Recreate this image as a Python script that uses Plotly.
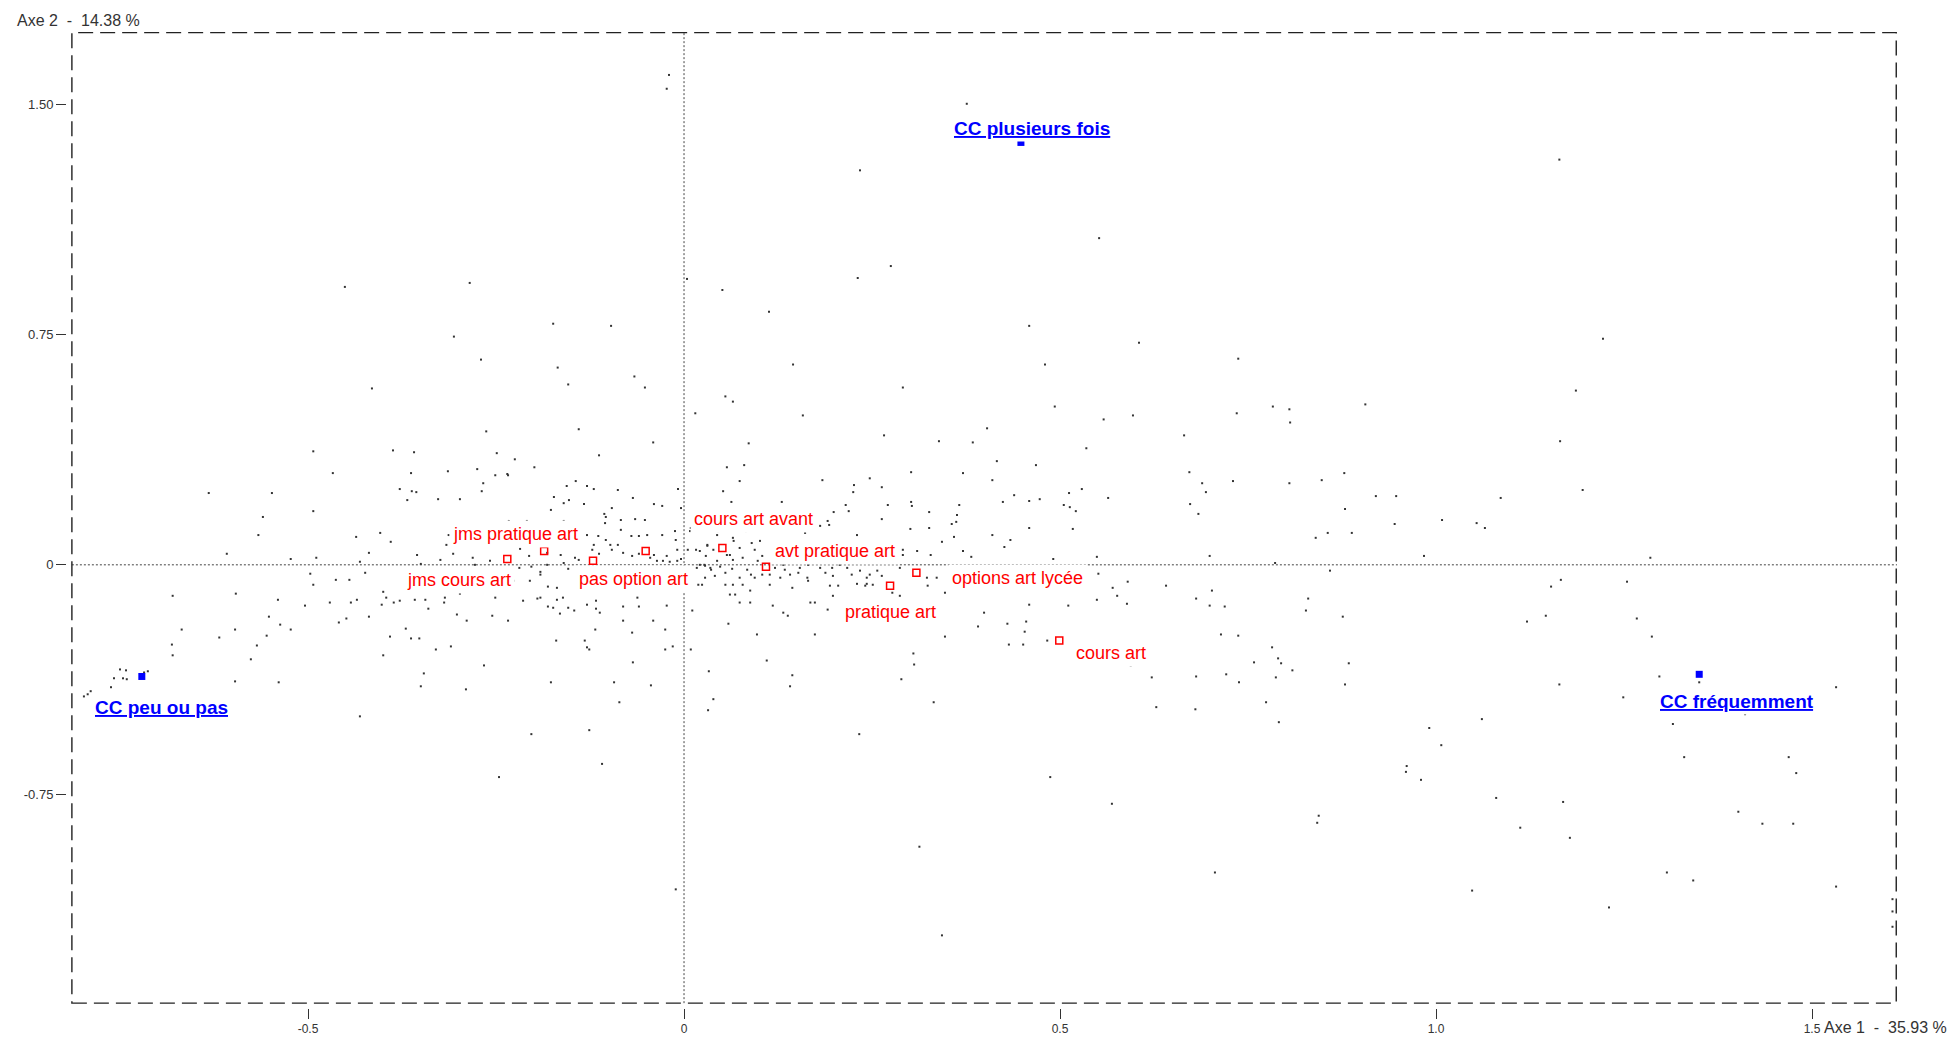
import plotly.graph_objects as go

# ---------------- data ----------------
# individuals (small grey dots): factorial coordinates on Axe 1 / Axe 2
ind_x = [
 -0.020,-0.023,0.376,0.234,1.164,0.552,0.275,0.231,0.004,0.051,0.113,-0.174,-0.097,0.459,0.605,1.222,0.737,0.145,0.480,-0.168,
 -0.066,-0.154,-0.052,0.291,1.186,0.055,0.065,0.015,0.158,0.493,0.558,0.597,0.735,0.783,0.805,0.806,0.906,-0.140,0.403,-0.041,
 0.086,0.266,0.339,0.384,0.535,0.665,1.165,-0.113,-0.225,-0.199,0.057,0.080,0.416,0.468,0.302,0.371,0.672,0.878,0.247,-0.235,
 0.673,0.684,0.694,0.689,0.730,0.805,0.848,0.920,0.947,0.879,0.856,0.888,0.840,0.945,1.008,1.054,1.065,1.086,1.195,0.699,
 0.786,0.984,1.285,0.859,0.641,0.702,0.681,0.699,0.719,0.830,0.827,0.876,1.166,1.153,1.254,1.121,1.146,1.267,1.287,0.714,
 0.737,0.782,0.790,0.794,0.758,0.809,0.884,0.622,0.681,0.721,0.738,0.787,0.879,1.164,1.297,1.350,1.532,1.249,0.628,0.680,
 0.774,0.791,1.061,1.411,1.315,0.991,1.007,1.330,1.469,1.479,0.961,0.960,0.980,1.080,1.169,1.402,1.434,1.475,0.844,0.842,
 1.112,1.178,0.706,1.307,1.342,1.532,1.048,1.230,
 -0.451,-0.415,-0.493,-0.467,-0.632,-0.548,-0.493,-0.560,-0.566,-0.436,-0.608,-0.523,-0.489,-0.419,-0.431,-0.497,-0.424,-0.493,-0.463,-0.445,
 -0.680,-0.596,-0.540,-0.504,-0.471,-0.443,-0.435,-0.419,-0.552,-0.459,-0.449,-0.537,-0.523,-0.668,-0.597,-0.618,-0.555,-0.681,-0.568,-0.680,
 -0.576,-0.750,-0.742,-0.758,-0.746,-0.741,-0.718,-0.713,-0.762,-0.789,-0.793,-0.798,-0.597,-0.539,-0.431,
 -0.387,-0.359,-0.263,-0.249,-0.363,-0.314,-0.275,-0.251,-0.234,-0.378,-0.362,-0.356,-0.267,-0.269,-0.368,-0.327,-0.298,-0.156,-0.144,-0.129,
 -0.120,-0.088,-0.008,-0.173,-0.160,-0.153,-0.133,-0.068,-0.040,-0.029,-0.004,-0.177,-0.104,-0.096,-0.106,-0.084,-0.065,-0.052,-0.233,-0.209,
 -0.160,-0.105,-0.404,-0.390,-0.313,-0.316,-0.129,-0.114,-0.104,-0.084,-0.070,-0.060,-0.049,-0.029,-0.012,0.008,-0.011,-0.120,-0.098,-0.088,
 -0.122,-0.113,-0.096,-0.081,-0.069,-0.060,-0.045,-0.036,-0.028,-0.019,-0.009,-0.004,-0.023,-0.009,-0.040,-0.140,-0.145,-0.154,-0.182,-0.164,
 -0.160,-0.218,-0.206,-0.219,-0.203,-0.191,-0.182,-0.281,-0.278,-0.258,-0.307,-0.324,-0.350,-0.355,-0.227,-0.205,-0.191,-0.243,-0.259,-0.275,
 -0.298,-0.332,-0.400,-0.396,-0.386,-0.378,-0.358,-0.344,-0.318,-0.319,-0.340,-0.402,-0.251,-0.214,-0.195,-0.181,-0.169,-0.191,-0.181,-0.169,
 -0.161,-0.174,-0.154,-0.165,-0.146,-0.129,-0.129,-0.117,-0.117,-0.101,-0.062,-0.056,-0.041,-0.062,-0.081,-0.060,-0.023,-0.009,-0.112,-0.081,
 -0.041,-0.118,-0.069,-0.025,-0.132,-0.129,-0.126,-0.025,-0.015,-0.170,-0.302,-0.289,-0.255,-0.234,-0.370,-0.391,-0.363,-0.352,-0.330,-0.310,
 -0.400,-0.266,-0.346,-0.350,-0.290,-0.177,-0.093,-0.044,-0.068,0.009,0.011,0.019,0.017,0.021,0.028,0.036,0.005,0.016,0.021,0.031,
 0.044,0.009,
 0.074,0.184,0.226,0.263,0.225,0.410,0.052,0.063,0.130,0.215,0.219,0.302,0.303,0.271,0.366,0.439,0.424,0.459,0.473,0.512,
 0.529,0.505,0.513,0.521,0.564,0.326,0.363,0.362,0.356,0.199,0.263,0.191,0.193,0.181,0.129,0.153,0.161,0.301,0.326,0.459,
 0.517,0.410,0.434,0.426,0.359,0.230,0.343,0.291,0.291,0.310,0.328,0.371,0.382,0.491,0.549,
 0.045,0.065,0.066,0.074,0.061,0.082,0.090,0.101,0.094,0.104,0.078,0.098,0.065,0.057,0.039,0.031,0.029,0.044,0.035,0.027,
 0.048,0.055,0.041,0.028,0.024,0.064,0.084,0.074,0.065,0.055,0.078,0.089,0.094,0.104,0.114,0.121,0.132,0.128,0.114,0.134,
 0.141,0.154,0.152,0.165,0.164,0.177,0.181,0.188,0.197,0.198,0.207,0.217,0.223,0.234,0.243,0.247,0.257,0.263,0.287,0.194,
 0.205,0.230,0.243,0.144,0.165,0.061,0.068,0.088,0.074,0.088,0.118,0.132,0.138,0.168,0.174,0.191,0.198,0.241,0.251,0.277,
 0.287,0.324,0.347,0.336,0.323,
 0.059,0.097,0.110,0.144,0.174,0.327,0.347,0.305,0.306,0.033,0.399,0.391,0.430,0.455,0.453,0.432,0.451,0.483,0.459,0.511,
 0.549,0.525,0.576,0.589,0.570,0.551,0.590,0.594,0.617,
 -0.086,-0.203,-0.126,-0.109,-0.246,-0.011,0.141,0.289,0.039,0.032,0.332,0.233,0.487,0.569,0.313,0.343,
 -0.285,-0.306,-0.270,1.607,1.607,1.607,
]
ind_y = [
 1.597,1.552,1.503,1.286,1.321,1.065,0.974,0.935,0.932,0.896,0.825,0.786,0.779,0.779,0.724,0.737,0.672,0.653,0.653,0.643,
 0.614,0.588,0.578,0.578,0.568,0.549,0.532,0.494,0.487,0.516,0.474,0.487,0.494,0.516,0.507,0.464,0.523,0.442,0.445,0.399,
 0.396,0.422,0.403,0.399,0.380,0.422,0.403,0.357,0.344,0.318,0.318,0.325,0.338,0.325,0.302,0.299,0.302,0.299,0.282,0.296,
 0.198,0.166,0.237,0.266,0.273,0.266,0.276,0.224,0.224,0.182,0.104,0.104,0.088,0.133,0.146,0.136,0.120,0.218,0.244,0.029,
 0.006,0.029,0.023,-0.019,-0.068,-0.084,-0.110,-0.133,-0.136,-0.110,-0.149,-0.169,-0.049,-0.071,-0.055,-0.185,-0.166,-0.175,-0.234,-0.227,
 -0.231,-0.269,-0.305,-0.321,-0.318,-0.344,-0.321,-0.367,-0.364,-0.357,-0.383,-0.367,-0.390,-0.390,-0.364,-0.383,-0.399,-0.432,-0.464,-0.471,
 -0.448,-0.513,-0.503,-0.487,-0.519,-0.532,-0.588,-0.627,-0.627,-0.679,-0.656,-0.675,-0.701,-0.760,-0.773,-0.805,-0.844,-0.844,-0.818,-0.841,
 -0.857,-0.890,-1.003,-1.003,-1.029,-1.049,-1.062,-1.117,
 0.906,0.575,0.370,0.299,0.234,0.234,0.175,0.156,0.097,0.091,0.036,0.019,0.023,0.039,0.010,-0.029,-0.026,-0.065,-0.049,-0.049,
 -0.101,-0.094,-0.114,-0.133,-0.123,-0.123,-0.114,-0.169,-0.169,-0.188,-0.175,-0.195,-0.211,-0.211,-0.211,-0.237,-0.231,-0.260,-0.263,-0.295,
 -0.308,-0.341,-0.344,-0.370,-0.370,-0.373,-0.351,-0.347,-0.399,-0.412,-0.422,-0.429,-0.380,-0.383,-0.494,
 0.373,0.367,0.435,0.364,0.299,0.305,0.312,0.292,0.292,0.247,0.240,0.237,0.266,0.240,0.211,0.214,0.214,0.257,0.273,0.257,
 0.247,0.244,0.247,0.221,0.201,0.211,0.198,0.218,0.198,0.192,0.185,0.179,0.156,0.185,0.166,0.146,0.149,0.146,0.143,0.143,
 0.143,0.136,0.104,0.075,0.097,0.065,0.097,0.094,0.081,0.114,0.094,0.094,0.097,0.097,0.110,0.110,0.081,0.065,0.065,0.065,
 0.049,0.036,0.049,0.039,0.029,0.036,0.023,0.013,0.013,0.010,0.013,0.019,0.029,0.049,0.032,0.016,0.023,-0.013,0.039,0.032,
 0.006,0.052,0.029,-0.010,-0.006,-0.023,0.000,0.023,0.000,0.013,0.036,0.016,0.003,0.032,-0.052,-0.052,-0.032,-0.081,-0.084,-0.084,
 -0.094,-0.088,-0.088,-0.107,-0.123,-0.117,-0.114,-0.114,-0.107,-0.123,-0.143,-0.130,-0.107,-0.117,-0.110,-0.071,-0.075,-0.107,-0.136,-0.114,
 -0.107,-0.140,-0.140,-0.159,-0.149,-0.078,-0.130,-0.117,-0.143,-0.084,-0.078,-0.084,-0.084,-0.107,-0.136,-0.136,-0.133,-0.084,-0.156,-0.182,
 -0.182,-0.211,-0.221,-0.211,-0.247,-0.269,-0.276,-0.276,-0.266,-0.247,-0.162,-0.182,-0.166,-0.182,-0.208,-0.234,-0.240,-0.240,-0.276,-0.266,
 -0.295,-0.328,-0.354,-0.396,-0.406,-0.383,-0.383,-0.393,-0.318,-0.276,-0.149,-0.065,-0.010,0.000,-0.003,-0.016,0.049,0.049,0.045,0.065,
 0.097,0.120,
 0.273,0.276,0.260,0.253,0.237,0.276,0.240,0.205,0.205,0.195,0.175,0.205,0.192,0.195,0.195,0.227,0.205,0.208,0.214,0.234,
 0.247,0.195,0.188,0.175,0.218,0.172,0.162,0.140,0.133,0.172,0.149,0.143,0.130,0.127,0.117,0.114,0.104,0.117,0.120,0.120,
 0.117,0.097,0.081,0.058,0.091,0.097,0.075,0.049,0.032,0.045,0.032,0.045,0.026,0.019,0.026,
 0.110,0.088,0.078,0.055,0.032,0.110,0.071,0.078,0.049,0.029,0.023,0.013,0.016,0.032,0.049,0.062,0.029,0.013,-0.010,0.000,
 -0.006,-0.026,-0.036,-0.042,-0.065,-0.013,-0.016,-0.042,-0.065,-0.065,-0.065,-0.032,-0.042,-0.032,-0.032,-0.010,0.000,-0.042,-0.065,-0.016,
 -0.032,-0.010,-0.026,0.000,-0.042,0.013,-0.010,-0.026,-0.010,-0.036,0.000,-0.010,-0.032,-0.019,-0.042,-0.032,-0.019,-0.036,-0.010,-0.068,
 -0.068,-0.062,-0.062,-0.075,-0.052,-0.097,-0.097,-0.084,-0.123,-0.123,-0.133,-0.156,-0.166,-0.123,-0.123,-0.146,-0.101,-0.068,-0.065,-0.091,
 -0.101,-0.068,-0.091,-0.042,-0.042,
 -0.192,-0.227,-0.312,-0.360,-0.227,-0.192,-0.234,-0.289,-0.325,-0.347,-0.156,-0.201,-0.192,-0.185,-0.218,-0.260,-0.260,-0.247,-0.130,-0.133,
 -0.114,-0.081,-0.101,-0.127,-0.075,-0.029,-0.055,-0.328,-0.312,
 -0.448,-0.552,-0.539,-0.649,-0.692,-1.058,-0.396,-0.373,-0.438,-0.474,-0.448,-0.552,-0.692,-0.779,-0.919,-1.208,
 0.919,0.744,0.669,-1.09,-1.13,-1.18,
]

# supplementary categories (red open squares)
sup_x = [-0.235, -0.186, -0.121, -0.051, 0.051, 0.109, 0.274, 0.309, 0.499]
sup_y = [0.019, 0.045, 0.013, 0.045, 0.055, -0.006, -0.068, -0.026, -0.247]

# red labels and their anchor (left edge, vertical middle)
sup_labels = ["jms cours art", "jms pratique art", "pas option art", "cours art avant",
              "avt pratique art", "options art lycée", "pratique art", "cours art"]
sup_label_x = [-0.3697, -0.3089, -0.1406, 0.0124, 0.1197, 0.3546, 0.2132, 0.5200]
sup_label_y = [-0.050, 0.101, -0.046, 0.148, 0.044, -0.043, -0.154, -0.287]

# active categories (blue filled squares)
act_names = ["CC plusieurs fois", "CC peu ou pas", "CC fréquemment"]
act_x = [0.448, -0.721, 1.350]
act_y = [1.377, -0.364, -0.357]
act_label_x = [0.4628, -0.785, 1.297]
act_label_y = [1.424, -0.465, -0.447]
act_label_anchor = ["center", "left", "left"]

x_ticks = [-0.5, 0, 0.5, 1.0, 1.5]
x_ticktext = ["-0.5", "0", "0.5", "1.0", "1.5"]
y_ticks = [-0.75, 0, 0.75, 1.5]
y_ticktext = ["-0.75", "0", "0.75", "1.50"]

axis1_title = "Axe 1 \u00a0-\u00a0 35.93 %"
axis2_title = "Axe 2 \u00a0-\u00a0 14.38 %"

frame_x = [-0.814, 1.613]
frame_y = [-1.429, 1.737]

# ---------------- figure ----------------
FONT = "Liberation Sans, Arial, sans-serif"
fig = go.Figure()

fig.add_trace(go.Scatter(
    x=ind_x, y=ind_y, mode="markers", hoverinfo="skip",
    marker=dict(symbol="square", size=2, color="#333333", line=dict(width=0)),
    showlegend=False))

fig.add_trace(go.Scatter(
    x=sup_x, y=sup_y, mode="markers", hoverinfo="skip",
    marker=dict(symbol="square-open", size=7, color="#FF0000", line=dict(width=1.5, color="#FF0000")),
    showlegend=False))

fig.add_trace(go.Scatter(
    x=act_x, y=act_y, mode="markers", hoverinfo="skip",
    marker=dict(symbol="square", size=7, color="#0000FF", line=dict(width=0)),
    showlegend=False))

shapes = [
    # dotted zero axes
    dict(type="line", xref="x", yref="y", x0=0, x1=0, y0=frame_y[0], y1=frame_y[1],
         line=dict(color="#444444", width=1, dash="2px,2px"), layer="below"),
    dict(type="line", xref="x", yref="y", x0=frame_x[0], x1=frame_x[1], y0=0, y1=0,
         line=dict(color="#444444", width=1, dash="2px,2px"), layer="below"),
    # long dashed frame
    dict(type="rect", xref="x", yref="y", x0=frame_x[0], x1=frame_x[1] - 0.001,
         y0=frame_y[0], y1=frame_y[1] - 0.002,
         line=dict(color="#222222", width=1.4, dash="15px,7px"), layer="above"),
]

annotations = []
for t, lx, ly in zip(sup_labels, sup_label_x, sup_label_y):
    annotations.append(dict(
        x=lx, y=ly, xref="x", yref="y", text=t, showarrow=False,
        xanchor="left", yanchor="middle", xshift=-3,
        bgcolor="white", borderpad=3,
        font=dict(family=FONT, size=18, color="#FF0000")))
for t, lx, ly, anc in zip(act_names, act_label_x, act_label_y, act_label_anchor):
    annotations.append(dict(
        x=lx, y=ly, xref="x", yref="y", text=t, showarrow=False,
        xanchor=anc, yanchor="middle", xshift=(-2 if anc == "left" else 0),
        bgcolor="white", borderpad=2,
        font=dict(family=FONT, size=19, color="#0000FF", weight="bold", lineposition="under")))
annotations.append(dict(
    x=-0.0284, y=1.0118, xref="paper", yref="paper", text=axis2_title, showarrow=False,
    xanchor="left", yanchor="middle", font=dict(family=FONT, size=16, color="#333333")))
annotations.append(dict(
    x=1.0279, y=-0.0198, xref="paper", yref="paper", text=axis1_title, showarrow=False,
    xanchor="right", yanchor="middle", bgcolor="white", borderpad=0,
    font=dict(family=FONT, size=16, color="#333333")))

fig.update_layout(
    width=1950, height=1048,
    margin=dict(l=67, r=53, t=32, b=36, pad=0),
    paper_bgcolor="white", plot_bgcolor="white",
    font=dict(family=FONT, color="#333333"),
    shapes=shapes, annotations=annotations,
    xaxis=dict(range=[-0.8205, 1.613], showgrid=False, zeroline=False, showline=False,
               ticks="outside", ticklen=10, tickwidth=1, tickcolor="#333333",
               tickvals=x_ticks, ticktext=x_ticktext,
               tickfont=dict(family=FONT, size=12, color="#333333")),
    yaxis=dict(range=[-1.4448, 1.737], showgrid=False, zeroline=False, showline=False,
               ticks="outside", ticklen=10, tickwidth=1, tickcolor="#333333",
               tickvals=y_ticks, ticktext=y_ticktext,
               tickfont=dict(family=FONT, size=13, color="#333333")),
)

fig.write_html("out.html", config={"displayModeBar": False},
               post_script="document.body.style.margin='0';document.body.style.overflow='hidden';")
